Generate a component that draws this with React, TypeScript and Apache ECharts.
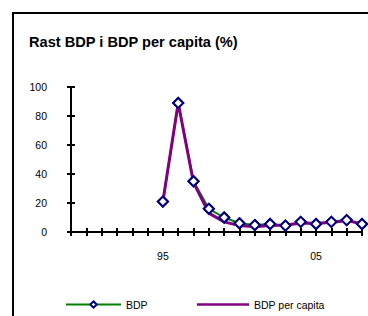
import React, { useEffect, useRef } from "react";
import * as echarts from "echarts";

const categories = ["89","90","91","92","93","94","95","96","97","98","99","00","01","02","03","04","05","06","07","08"];
const xLabels: Record<string, string> = { "95": "95", "05": "05" };
const bdp = [null, null, null, null, null, null, 21, 89, 35, 16, 10, 6, 4.8, 5.5, 4.4, 7, 5.5, 7, 8.2, 5.5];
const bdpPerCapita = [null, null, null, null, null, null, 21, 89, 34, 13, 7, 4.4, 3.7, 4.4, 4.8, 6, 6, 6.5, 8, 5.5];
const yTicks = [0, 20, 40, 60, 80, 100];

const FONT = "'Liberation Sans', Arial, sans-serif";

export default function App() {
  const ref = useRef<HTMLDivElement>(null);
  useEffect(() => {
    if (!ref.current) return;
    const chart = echarts.init(ref.current, null, { renderer: "svg" });
    const axisLine = { show: true, lineStyle: { color: "#000", width: 2 } };
    chart.setOption({
      animation: false,
      backgroundColor: "#fff",
      textStyle: { fontFamily: FONT },
      title: {
        text: "Rast BDP i BDP per capita (%)",
        left: 24,
        top: 29,
        textStyle: { fontFamily: FONT, fontSize: 14.6, fontWeight: "bold", color: "#000" },
      },
      graphic: [
        {
          type: "rect",
          shape: { x: 13, y: 13, width: 400, height: 400 },
          style: { fill: "none", stroke: "#000", lineWidth: 2 },
          z: 100,
        },
      ],
      legend: [
        {
          left: 60,
          top: 294,
          itemWidth: 55,
          itemHeight: 8,
          itemGap: 50,
          textStyle: { fontFamily: FONT, fontSize: 10.5, color: "#000" },
          data: ["BDP"],
        },
        {
          left: 192,
          top: 294,
          itemWidth: 52,
          itemHeight: 2.5,
          icon: "rect",
          textStyle: { fontFamily: FONT, fontSize: 10.5, color: "#000" },
          data: ["BDP per capita"],
        },
      ],
      grid: { left: 71, right: 6, top: 87, bottom: 84 },
      xAxis: [
        {
          type: "category",
          data: categories,
          boundaryGap: false,
          axisLine,
          axisTick: { show: true, interval: 0, length: 4, lineStyle: { color: "#000", width: 2 } },
          axisLabel: {
            interval: 0,
            margin: 18,
            fontFamily: FONT,
            fontSize: 10.5,
            color: "#000",
            formatter: (v: string) => xLabels[v] || "",
          },
          splitLine: { show: false },
        },
        {
          type: "category",
          data: categories,
          position: "bottom",
          boundaryGap: false,
          axisLine: { show: false },
          axisTick: { show: true, inside: true, interval: 0, length: 4, lineStyle: { color: "#000", width: 2 } },
          axisLabel: { show: false },
        },
      ],
      yAxis: [
        {
          type: "value",
          min: yTicks[0],
          max: yTicks[yTicks.length - 1],
          interval: 20,
          axisLine,
          axisTick: { show: true, length: 4, lineStyle: { color: "#000", width: 2 } },
          axisLabel: { margin: 24, fontFamily: FONT, fontSize: 10.5, color: "#000" },
          splitLine: { show: false },
        },
        {
          type: "value",
          min: yTicks[0],
          max: yTicks[yTicks.length - 1],
          interval: 20,
          position: "left",
          axisLine: { show: false },
          axisTick: { show: true, inside: true, length: 4, lineStyle: { color: "#000", width: 2 } },
          axisLabel: { show: false },
          splitLine: { show: false },
        },
      ],
      series: [
        {
          name: "BDP",
          type: "line",
          data: bdp,
          symbol: "diamond",
          symbolSize: 10,
          showSymbol: true,
          lineStyle: { color: "#008000", width: 2 },
          itemStyle: { color: "#fff", borderColor: "#000080", borderWidth: 2 },
          z: 2,
        },
        {
          name: "BDP per capita",
          type: "line",
          data: bdpPerCapita,
          symbol: "none",
          lineStyle: { color: "#800080", width: 3 },
          itemStyle: { color: "#800080" },
          z: 3,
        },
        {
          name: "BDP",
          type: "line",
          data: bdp,
          symbol: "diamond",
          symbolSize: 10,
          lineStyle: { width: 0, opacity: 0 },
          itemStyle: { color: "#fff", borderColor: "#000080", borderWidth: 2 },
          z: 4,
        },
      ],
    });
    return () => chart.dispose();
  }, []);
  return (
    <div
      ref={ref}
      style={{ position: "absolute", left: 0, top: 0, width: 368, height: 316 }}
    />
  );
}
